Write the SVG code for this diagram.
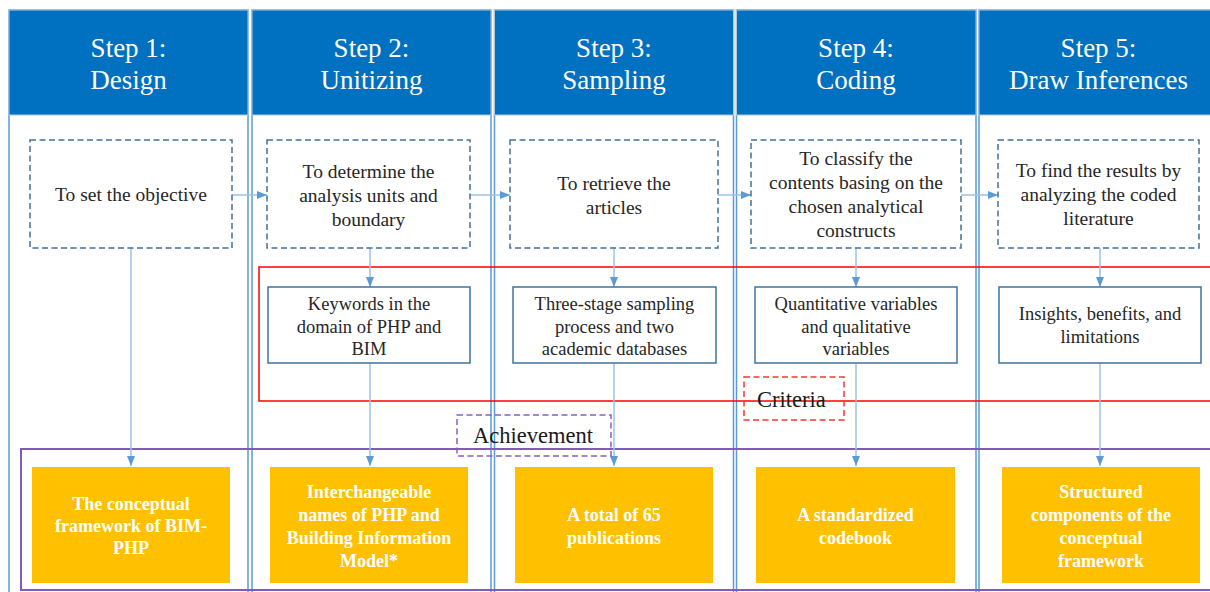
<svg xmlns="http://www.w3.org/2000/svg" width="1210" height="592" viewBox="0 0 1210 592" font-family="Liberation Serif, Times New Roman, serif">
<style>
.col{fill:#fff;stroke:#5B9BD5;stroke-width:1.5}
.hdr{fill:#0070C0;stroke:#B4C7DC;stroke-width:1}
.ht{font-size:27px;fill:#fff;text-anchor:middle}
.dash{fill:#fff;stroke:#41719C;stroke-width:1.5;stroke-dasharray:6 3.5}
.dt{font-size:19.5px;fill:#262626;text-anchor:middle}
.mid{fill:#fff;stroke:#41719C;stroke-width:1.5}
.mt{font-size:18.5px;fill:#262626;text-anchor:middle}
.out{fill:#FFC000}
.ot{font-size:18px;font-weight:bold;fill:#fff;text-anchor:middle}
.lab{font-size:22.5px;fill:#1a1a1a}
.conn{stroke:#9DC3E6;stroke-width:1.5;fill:none;marker-end:url(#ah)}
</style>
<defs>
<marker id="ah" viewBox="0 0 10 8" refX="10" refY="4" markerWidth="10" markerHeight="8" markerUnits="userSpaceOnUse" orient="auto">
<path d="M0,0 L10,4 L0,8 z" fill="#5B9BD5"/>
</marker>
</defs>
<rect width="1210" height="592" fill="#fff"/>
<g id="columns">
<rect class="col" x="9" y="10" width="239" height="600"/>
<rect class="col" x="252" y="10" width="239" height="600"/>
<rect class="col" x="494.5" y="10" width="239" height="600"/>
<rect class="col" x="736.5" y="10" width="239.5" height="600"/>
<rect class="col" x="979" y="10" width="240" height="600"/>
</g>
<g id="step1-header"><rect class="hdr" x="9" y="10" width="239" height="105"/><text class="ht" x="128.5" y="57">Step 1:</text><text class="ht" x="128.5" y="89">Design</text></g>
<g id="step2-header"><rect class="hdr" x="252" y="10" width="239" height="105"/><text class="ht" x="371.5" y="57">Step 2:</text><text class="ht" x="371.5" y="89">Unitizing</text></g>
<g id="step3-header"><rect class="hdr" x="494.5" y="10" width="239" height="105"/><text class="ht" x="614" y="57">Step 3:</text><text class="ht" x="614" y="89">Sampling</text></g>
<g id="step4-header"><rect class="hdr" x="736.5" y="10" width="239.5" height="105"/><text class="ht" x="856" y="57">Step 4:</text><text class="ht" x="856" y="89">Coding</text></g>
<g id="step5-header"><rect class="hdr" x="979" y="10" width="240" height="105"/><text class="ht" x="1098.5" y="57">Step 5:</text><text class="ht" x="1098.5" y="89">Draw Inferences</text></g>

<g id="criteria-frame"><rect x="259" y="267" width="958" height="134" fill="none" stroke="#FF0000" stroke-width="1.5"/></g>
<g id="achievement-frame"><rect x="21" y="449" width="1196" height="141" fill="none" stroke="#7F5CB8" stroke-width="2"/></g>

<g id="connectors">
<line class="conn" x1="232" y1="195" x2="267" y2="195"/>
<line class="conn" x1="470" y1="195" x2="510" y2="195"/>
<line class="conn" x1="718" y1="195" x2="751" y2="195"/>
<line class="conn" x1="961" y1="195" x2="998" y2="195"/>
<line class="conn" x1="131" y1="248" x2="131" y2="466"/>
<line class="conn" x1="370" y1="248" x2="370" y2="287"/>
<line class="conn" x1="370" y1="363" x2="370" y2="466"/>
<line class="conn" x1="614" y1="248" x2="614" y2="287"/>
<line class="conn" x1="614" y1="363" x2="614" y2="466"/>
<line class="conn" x1="856" y1="248" x2="856" y2="287"/>
<line class="conn" x1="856" y1="363" x2="856" y2="466"/>
<line class="conn" x1="1100" y1="248" x2="1100" y2="287"/>
<line class="conn" x1="1100" y1="363" x2="1100" y2="466"/>
</g>

<g id="obj1"><rect class="dash" x="30" y="140" width="202" height="108"/><text class="dt" x="131" y="201">To set the objective</text></g>
<g id="obj2"><rect class="dash" x="267" y="140" width="203" height="108"/><text class="dt" x="368.5" y="178">To determine the</text><text class="dt" x="368.5" y="202">analysis units and</text><text class="dt" x="368.5" y="226">boundary</text></g>
<g id="obj3"><rect class="dash" x="510" y="140" width="208" height="108"/><text class="dt" x="614" y="190">To retrieve the</text><text class="dt" x="614" y="214">articles</text></g>
<g id="obj4"><rect class="dash" x="751" y="140" width="210" height="108"/><text class="dt" x="856" y="165">To classify the</text><text class="dt" x="856" y="189">contents basing on the</text><text class="dt" x="856" y="213">chosen analytical</text><text class="dt" x="856" y="237">constructs</text></g>
<g id="obj5"><rect class="dash" x="998" y="140" width="201" height="108"/><text class="dt" x="1098.5" y="177">To find the results by</text><text class="dt" x="1098.5" y="201">analyzing the coded</text><text class="dt" x="1098.5" y="225">literature</text></g>

<g id="crit2"><rect class="mid" x="268" y="287" width="202" height="76"/><text class="mt" x="369" y="310">Keywords in the</text><text class="mt" x="369" y="333">domain of PHP and</text><text class="mt" x="369" y="355">BIM</text></g>
<g id="crit3"><rect class="mid" x="513" y="287" width="203" height="76"/><text class="mt" x="614.5" y="310">Three-stage sampling</text><text class="mt" x="614.5" y="333">process and two</text><text class="mt" x="614.5" y="355">academic databases</text></g>
<g id="crit4"><rect class="mid" x="755" y="287" width="202" height="76"/><text class="mt" x="856" y="310">Quantitative variables</text><text class="mt" x="856" y="333">and qualitative</text><text class="mt" x="856" y="355">variables</text></g>
<g id="crit5"><rect class="mid" x="999" y="287" width="202" height="76"/><text class="mt" x="1100" y="320">Insights, benefits, and</text><text class="mt" x="1100" y="343">limitations</text></g>

<g id="criteria-label"><rect x="744" y="377" width="100" height="43" fill="none" stroke="#FF3333" stroke-width="1.5" stroke-dasharray="6 3.5"/><text class="lab" x="757" y="407">Criteria</text></g>
<g id="achievement-label"><rect x="457" y="415" width="154" height="41" fill="none" stroke="#8A5CC8" stroke-width="1.5" stroke-dasharray="6 3.5"/><text class="lab" x="473" y="443">Achievement</text></g>

<g id="out1"><rect class="out" x="32" y="467" width="198" height="116"/><text class="ot" x="131" y="510">The conceptual</text><text class="ot" x="131" y="532">framework of BIM-</text><text class="ot" x="131" y="554">PHP</text></g>
<g id="out2"><rect class="out" x="270" y="467" width="198" height="116"/><text class="ot" x="369" y="498">Interchangeable</text><text class="ot" x="369" y="521">names of PHP and</text><text class="ot" x="369" y="544">Building Information</text><text class="ot" x="369" y="567">Model*</text></g>
<g id="out3"><rect class="out" x="515" y="467" width="198" height="116"/><text class="ot" x="614" y="521">A total of 65</text><text class="ot" x="614" y="544">publications</text></g>
<g id="out4"><rect class="out" x="756" y="467" width="199" height="116"/><text class="ot" x="855.5" y="521">A standardized</text><text class="ot" x="855.5" y="544">codebook</text></g>
<g id="out5"><rect class="out" x="1002" y="467" width="198" height="116"/><text class="ot" x="1101" y="498">Structured</text><text class="ot" x="1101" y="521">components of the</text><text class="ot" x="1101" y="544">conceptual</text><text class="ot" x="1101" y="567">framework</text></g>
</svg>
